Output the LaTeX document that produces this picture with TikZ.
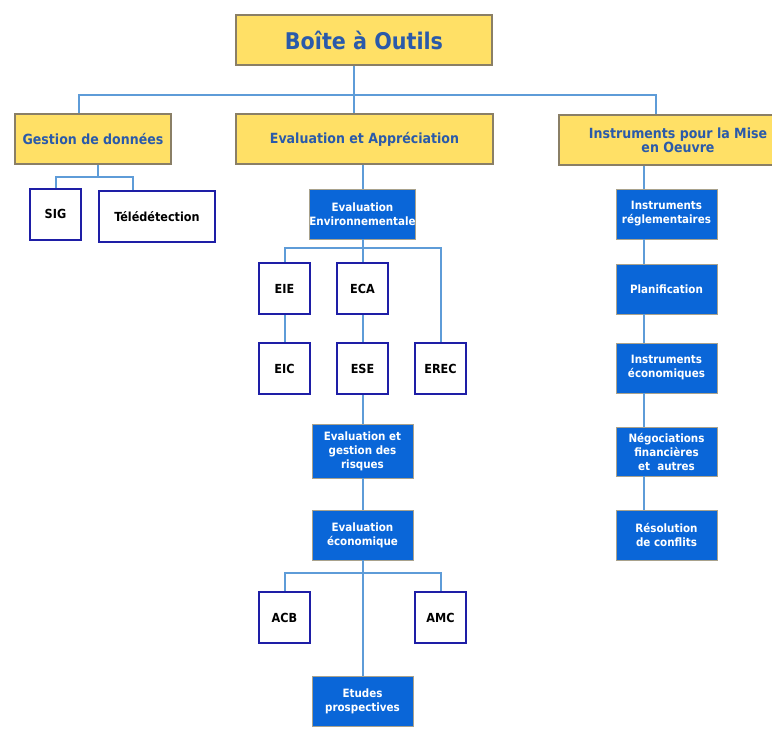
\documentclass[tikz,border=0pt]{standalone}
\usepackage{fontspec}
\setmainfont{DejaVu Sans Condensed}
\usepackage{tikz}
\usetikzlibrary{positioning}
\definecolor{sun}{HTML}{FFE066}
\definecolor{sunedge}{HTML}{8A7F66}
\definecolor{ink}{HTML}{2A5AAA}
\definecolor{deepblue}{HTML}{0A66D8}
\definecolor{blueedge}{HTML}{A9A28C}
\definecolor{navy}{HTML}{1E1EA6}
\definecolor{wirecol}{HTML}{5E9CD8}

\begin{document}
\begin{tikzpicture}[
  x=1pt, y=-1pt,
  card/.style={inner sep=0pt, align=center},
  yellowbox/.style={card, draw=sunedge, line width=1.2pt, fill=sun, text=ink,
                    font=\fontsize{14}{14}\selectfont\bfseries, minimum height=50pt},
  bluebox/.style={card, draw=blueedge, line width=0.8pt, fill=deepblue, text=white,
                  font=\fontsize{11.5}{14}\selectfont\bfseries, minimum width=101pt, minimum height=50pt},
  whitebox/.style={card, draw=navy, line width=2pt, fill=white, text=black,
                   font=\fontsize{12.5}{14}\selectfont\bfseries, minimum width=51pt, minimum height=51pt},
  wire/.style={draw=wirecol, line width=2pt}
]
  \useasboundingbox (0,0) rectangle (772,731);

  \node[yellowbox, minimum width=256pt, font=\fontsize{23}{23}\selectfont\bfseries] (top) at (364,40) {Boîte à Outils};
  \node[yellowbox, minimum width=156pt] (gest) at (93,139) {Gestion de données};
  \node[yellowbox, minimum width=257pt] (evap) at (364.5,139) {Evaluation et Appréciation};
  \node[yellowbox, minimum width=238pt] (inst) at (678,140) {Instruments pour la Mise\\en Oeuvre};

  \node[whitebox] (sig) at (55.5,214) {SIG};
  \node[whitebox, minimum width=116pt] (tele) at (157,216.5) {Télédétection};

  \node[bluebox] (evenv) at (362.5,214) {Evaluation\\Environnementale};
  \node[whitebox] (eie) at (284.5,288.5) {EIE};
  \node[whitebox] (eca) at (362.5,288.5) {ECA};
  \node[whitebox] (eic) at (284.5,368.5) {EIC};
  \node[whitebox] (ese) at (362.5,368.5) {ESE};
  \node[whitebox] (erec) at (440.5,368.5) {EREC};
  \node[bluebox, minimum height=54pt] (risk) at (362.5,451) {Evaluation et\\gestion des\\risques};
  \node[bluebox] (eco) at (362.5,535) {Evaluation\\économique};
  \node[whitebox] (acb) at (284.5,617.5) {ACB};
  \node[whitebox] (amc) at (440.5,617.5) {AMC};
  \node[bluebox] (etud) at (362.5,701) {Etudes\\prospectives};

  \node[bluebox] (ir) at (666.5,214) {Instruments\\réglementaires};
  \node[bluebox] (plan) at (666.5,289) {Planification};
  \node[bluebox] (ieco) at (666.5,368) {Instruments\\économiques};
  \node[bluebox, minimum height=49pt] (nego) at (666.5,451.5) {Négociations\\financières\\et\ \ autres};
  \node[bluebox] (reso) at (666.5,535) {Résolution\\de conflits};

  \coordinate (xr) at (644,0);

  \draw[wire] ([xshift=-10pt]top.south) -- ([xshift=-10pt]top.south |- evap.north);
  \draw[wire] ([xshift=-14pt]gest.north) -- ++(0,-18) -| ([xshift=-22pt]inst.north);

  \draw[wire] ([xshift=5pt]gest.south) -- ++(0,12) coordinate (gbus);
  \draw[wire] (sig.north) |- (gbus) -| ([xshift=-24pt]tele.north);

  \draw[wire] (evenv.north |- evap.south) -- (evenv.north);
  \draw[wire] (evenv.south) -- (eca.north);
  \path (evenv.south) ++(0,9) coordinate (ebus);
  \draw[wire] (eie.north) |- (ebus) -| (erec.north);
  \draw[wire] (eie.south) -- (eic.north);
  \draw[wire] (eca.south) -- (ese.north);
  \draw[wire] (ese.south) -- (risk.north);
  \draw[wire] (risk.south) -- (eco.north);
  \draw[wire] (eco.south) -- (etud.north);
  \path (eco.south) ++(0,13) coordinate (cbus);
  \draw[wire] (acb.north) |- (cbus) -| (amc.north);

  \draw[wire] (inst.south -| xr) -- (ir.north -| xr);
  \draw[wire] (ir.south -| xr) -- (plan.north -| xr);
  \draw[wire] (plan.south -| xr) -- (ieco.north -| xr);
  \draw[wire] (ieco.south -| xr) -- (nego.north -| xr);
  \draw[wire] (nego.south -| xr) -- (reso.north -| xr);
\end{tikzpicture}
\end{document}
